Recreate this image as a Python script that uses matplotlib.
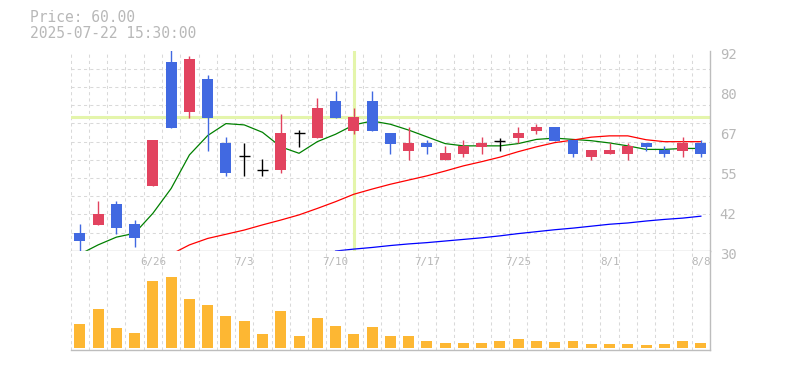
import matplotlib
matplotlib.use('Agg')
import matplotlib.pyplot as plt
import matplotlib.transforms as mtransforms
import numpy as np

# ── Data ──────────────────────────────────────────────────────────────────
opens  = [35.6, 38.0, 44.5, 38.3, 50.2, 88.5, 73.1, 83.2, 63.4, 59.4, 55.1, 55.1,
          66.5, 65.0, 76.4, 67.2, 76.4, 66.5, 60.9, 63.4, 58.2, 60.1, 62.2, 64.1,
          65.0, 67.2, 68.3, 64.3, 59.1, 60.1, 60.1, 63.4, 61.2, 61.0, 63.4]
closes = [33.0, 41.4, 37.1, 34.0, 64.3, 68.1, 89.4, 71.2, 54.2, 59.4, 55.1, 66.5,
          66.5, 74.2, 71.2, 71.4, 67.2, 63.2, 63.4, 62.2, 60.4, 62.5, 63.4, 64.1,
          66.5, 68.3, 64.1, 60.1, 61.2, 61.2, 62.5, 62.2, 60.1, 63.4, 60.1]
highs  = [38.3, 45.5, 45.4, 39.6, 64.3, 92.3, 90.4, 84.5, 65.2, 63.3, 58.4, 72.4,
          67.4, 77.3, 79.5, 74.2, 79.5, 66.5, 68.3, 64.3, 62.5, 64.3, 65.2, 65.0,
          68.3, 69.3, 68.3, 64.3, 61.2, 63.4, 63.4, 63.4, 62.5, 65.2, 64.3]
lows   = [30.0, 38.0, 35.2, 31.2, 50.2, 68.1, 71.2, 61.0, 53.3, 53.3, 53.3, 54.2,
          62.2, 65.0, 71.2, 66.2, 67.2, 60.1, 58.2, 60.1, 58.2, 59.1, 60.1, 61.0,
          63.4, 66.2, 64.1, 59.1, 58.2, 60.1, 58.2, 61.0, 59.1, 59.1, 59.1]
volumes = [237, 387, 197, 147, 667, 707, 487, 427, 317, 267, 137, 367, 117, 297,
           217, 137, 207, 117, 117, 67, 47, 47, 47, 67, 87, 67, 57, 67, 37, 37,
           37, 27, 37, 67, 47]   # thousands

ma_short = [28.9, 31.8, 34.2, 35.4, 41.6, 49.3, 59.7, 65.7, 69.4, 69.0, 66.7, 62.2,
            60.2, 63.8, 66.1, 69.0, 70.2, 69.2, 67.4, 65.3, 63.2, 62.5, 62.5, 62.5,
            63.2, 64.5, 64.9, 64.5, 64.1, 63.4, 62.5, 61.4, 61.4, 61.7, 61.7]
ma_mid = [None] * 5 + [28.9, 31.8, 33.8, 35.1, 36.4, 38.0, 39.5, 41.1, 43.1, 45.2,
                       47.5, 49.1, 50.6, 51.9, 53.2, 54.7, 56.3, 57.6, 59.0, 60.7,
                       62.2, 63.5, 64.3, 65.2, 65.6, 65.6, 64.4, 63.8, 63.8, 63.8]
ma_long = [None] * 14 + [29.9, 30.5, 31.0, 31.6, 32.1, 32.5, 33.0, 33.5, 34.0, 34.6,
                         35.3, 35.9, 36.5, 37.0, 37.6, 38.2, 38.6, 39.2, 39.7, 40.1, 40.7]

tick_idx    = [4, 9, 14, 19, 24, 29, 34]
tick_labels = ['6/26', '7/3', '7/10', '7/17', '7/25', '8/1', '8/8']
y_ticks       = [30, 42.4, 54.8, 67.2, 79.6, 92]
y_tick_labels = ['30', '42', '55', '67', '80', '92']

cross_idx, cross_price = 15, 71.35
title_lines = ['Price: 60.00', '2025-07-22 15:30:00']

# ── Style ─────────────────────────────────────────────────────────────────
UP, DOWN, DOJI = '#e2435f', '#4169e1', '#000000'
VOL_COLOR = '#fdb733'
GRID = '#d9d9d9'
AXIS = '#bdbdbd'
TEXT = '#b8b8b8'
CROSS = '#e4f5ab'
MONO = 'DejaVu Sans Mono'

W, H = 785, 370
fig = plt.figure(figsize=(W / 100, H / 100), dpi=100)
left, right = 70.7, 710
ax  = fig.add_axes([left / W, (H - 250.7) / H, (right - left) / W, 200 / H])
axv = fig.add_axes([left / W, (H - 350) / H, (right - left) / W, 99.3 / H], sharex=ax)

n = len(opens)
x = np.arange(n)

for a in (ax, axv):
    a.set_xlim(-0.5, n - 0.5)
    a.set_xticks(np.arange(-0.5, n, 1.0), minor=True)
    a.set_xticks([])
    a.tick_params(which='both', length=0, labelbottom=False, labelleft=False)
    a.grid(which='minor', axis='x', color=GRID, linestyle=(0, (3, 3)), linewidth=0.75)
    a.set_axisbelow(True)
    for s in ('top', 'left'):
        a.spines[s].set_visible(False)
    for s in ('bottom', 'right'):
        a.spines[s].set_color(AXIS)
        a.spines[s].set_linewidth(1.0)

# ── Price panel ───────────────────────────────────────────────────────────
ax.set_ylim(30, 92)
ax.set_yticks(np.linspace(30, 92, 12), minor=True)
ax.grid(which='minor', axis='y', color=GRID, linestyle=(0, (3, 3)), linewidth=0.75)
ax.yaxis.tick_right()
ax.set_yticks(y_ticks)
ax.set_yticklabels(y_tick_labels, family=MONO, fontsize=10, color=TEXT)
ax.tick_params(axis='y', which='major', length=0, pad=7, labelright=True)
off = mtransforms.ScaledTranslation(0, -2.5 / 100, fig.dpi_scale_trans)
for lab in ax.get_yticklabels():
    lab.set_transform(lab.get_transform() + off)

# crosshair
ax.axhline(cross_price, color=CROSS, linewidth=2.2, zorder=1.5)
ax.axvline(cross_idx, color=CROSS, linewidth=2.2, zorder=1.5)

# moving averages
def ma_line(vals, color):
    xs = [i for i, v in enumerate(vals) if v is not None]
    ys = [v for v in vals if v is not None]
    ax.plot(xs, ys, color=color, linewidth=0.9, zorder=2, clip_on=True)

ma_line(ma_short, '#008000')
ma_line(ma_mid, '#ff0000')
ma_line(ma_long, '#0000ff')

# candles
colors = [UP if c > o else DOWN if c < o else DOJI for o, c in zip(opens, closes)]
ax.vlines(x, lows, highs, colors=colors, linewidth=1.0, zorder=3)
body_bottom = [min(o, c) for o, c in zip(opens, closes)]
body_height = [abs(c - o) for o, c in zip(opens, closes)]
ax.bar(x, body_height, bottom=body_bottom, width=0.6, color=colors, linewidth=0, zorder=4)
doji = [i for i in range(n) if opens[i] == closes[i]]
ax.hlines([opens[i] for i in doji], [i - 0.3 for i in doji], [i + 0.3 for i in doji],
          colors=DOJI, linewidth=1.0, zorder=4)

# ── Volume panel ──────────────────────────────────────────────────────────
axv.set_ylim(-23, 970)
axv.set_yticks([])
axv.bar(x, volumes, width=0.6, color=VOL_COLOR, linewidth=0, zorder=3)
for i, lab in zip(tick_idx, tick_labels):
    axv.text(i, 0.89, lab, transform=axv.get_xaxis_transform(), ha='center', va='center',
             family=MONO, fontsize=7.8, color=TEXT)

# ── Header ────────────────────────────────────────────────────────────────
fig.text(30 / W, 1 - 18 / H, title_lines[0], family=MONO, fontsize=10.5, color=TEXT, va='center')
fig.text(30 / W, 1 - 33.5 / H, title_lines[1], family=MONO, fontsize=10.5, color=TEXT, va='center')

fig.savefig('out.png', dpi=100, facecolor='white')
